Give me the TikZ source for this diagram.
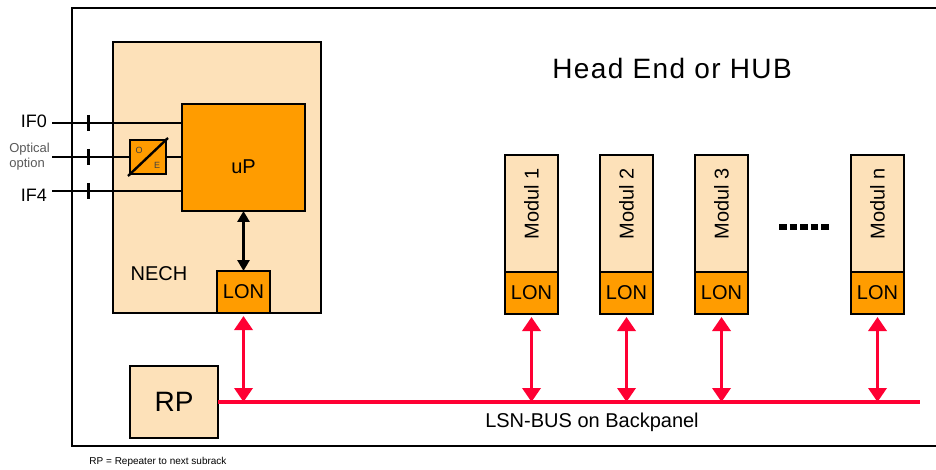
\documentclass[tikz,border=0pt]{standalone}
\usepackage{fontspec}
\setmainfont{Liberation Sans}
\usetikzlibrary{positioning,arrows.meta}
\definecolor{peach}{RGB}{253,225,185}
\definecolor{lonorange}{RGB}{255,156,0}
\definecolor{busred}{RGB}{255,0,51}
\begin{document}
\begin{tikzpicture}[x=1pt,y=-1pt,
    frame/.style={draw,line width=2.6pt,outer sep=0pt,inner sep=0pt},
    pale/.style={frame,fill=peach},
    chip/.style={frame,fill=lonorange},
    lon/.style={chip,minimum width=53,minimum height=42,font=\fontsize{20}{20}\selectfont},
    modul/.style={pale,minimum width=53,minimum height=117,font=\fontsize{20}{20}\selectfont},
    lsn/.style={busred,line width=3.5pt,{Triangle[width=18pt,length=14pt]}-{Triangle[width=18pt,length=14pt]},shorten <=3pt},
    wire/.style={line width=2.4pt},
    tick/.style={line width=3pt}]
  \useasboundingbox (0,0) rectangle (936,470);
  \draw[line width=2.6pt] (936,8) -- (72,8) -- (72,446) -- (936,446);

  \node[pale,minimum width=208,minimum height=271] (nech) at (217,177.5) {};
  \node[chip,minimum width=123,minimum height=107,
    label={[yshift=-9pt,font=\fontsize{20}{20}\selectfont]center:uP}] (up) at (243.5,157.5) {};
  \node[lon,anchor=south] (lon0) at (nech.south -| up.south) {LON};
  \node[font=\fontsize{20}{20}\selectfont] (nechlabel) at (159,274) {NECH};
  \node[chip,minimum width=36,minimum height=34] (oe) at (148,157) {};
  \draw[wire] ([shift={(-2,2)}]oe.south west) -- ([shift={(2,-2)}]oe.north east);
  \node[font=\fontsize{9}{9}\selectfont,text=black!75] (oeo) at ([shift={(9,10)}]oe.north west) {O};
  \node[font=\fontsize{9}{9}\selectfont,text=black!75] (oee) at ([shift={(-9,-9)}]oe.south east) {E};

  \coordinate (if0) at (52,123);
  \coordinate (opt) at (52,157);
  \coordinate (if4) at (52,191);
  \draw[wire] (if0) -- (if0 -| up.west);
  \draw[wire] (opt) -- (oe.west);
  \draw[wire] (oe.east) -- (oe.east -| up.west);
  \draw[wire] (if4) -- (if4 -| up.west);
  \draw[tick] (88,115) -- (88,131);
  \draw[tick] (88,149) -- (88,165);
  \draw[tick] (88,183) -- (88,199);
  \node[anchor=east,inner sep=0pt,font=\fontsize{18}{18}\selectfont] (lif0) at (47,121) {IF0};
  \node[anchor=east,inner sep=0pt,font=\fontsize{13}{15}\selectfont,text=black!65,align=left] (lopt) at (50,157) {Optical\\option};
  \node[anchor=east,inner sep=0pt,font=\fontsize{18}{18}\selectfont] (lif4) at (47,195) {IF4};
  \draw[line width=3pt,{Triangle[width=12pt,length=11pt]}-{Triangle[width=12pt,length=11pt]}] (up) -- (lon0);

  \node[font=\fontsize{28}{28}\selectfont\addfontfeature{LetterSpace=5}] (hub) at (672,68) {Head End or HUB};

  \node[modul] (m1) at (531.5,213.5) {\rotatebox{90}{\hspace{20pt}Modul 1}};
  \node[lon,below=0pt of m1] (l1) {LON};
  \node[modul] (m2) at (626.5,213.5) {\rotatebox{90}{\hspace{20pt}Modul 2}};
  \node[lon,below=0pt of m2] (l2) {LON};
  \node[modul] (m3) at (721.5,213.5) {\rotatebox{90}{\hspace{20pt}Modul 3}};
  \node[lon,below=0pt of m3] (l3) {LON};
  \node[modul] (mn) at (877.5,213.5) {\rotatebox{90}{\hspace{20pt}Modul n}};
  \node[lon,below=0pt of mn] (ln) {LON};
  \draw[line width=6.5pt,dash pattern=on 7.5pt off 3pt] (779,227) -- (831,227);

  \node[pale,minimum width=88,minimum height=72,font=\fontsize{28}{28}\selectfont] (rp) at (174,402) {RP};
  \coordinate (busend) at (920,402);
  \draw[busred,line width=4.5pt] (rp) -- (busend);
  \draw[lsn] (lon0) -- (lon0 |- busend);
  \draw[lsn] (l1) -- (l1 |- busend);
  \draw[lsn] (l2) -- (l2 |- busend);
  \draw[lsn] (l3) -- (l3 |- busend);
  \draw[lsn] (ln) -- (ln |- busend);
  \node[font=\fontsize{20}{20}\selectfont] (buslabel) at (592,422) {LSN-BUS on Backpanel};
  \node[font=\fontsize{10}{10}\selectfont] (rpnote) at (158,462) {RP = Repeater to next subrack};
\end{tikzpicture}
\end{document}
